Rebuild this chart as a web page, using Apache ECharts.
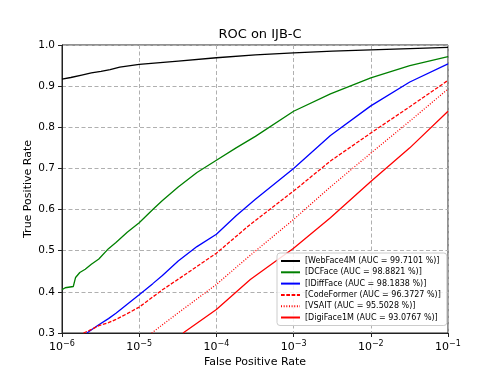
<!DOCTYPE html>
<html>
<head>
<meta charset="utf-8">
<script src="https://cdn.jsdelivr.net/npm/echarts@6/dist/echarts.min.js"></script>
<style>
  html, body { margin: 0; padding: 0; background: #fff; }
  #chart { width: 498px; height: 374px; }
</style>
</head>
<body>
<div id="chart"></div>
<script>
// ROC curves (x = FPR, y = TPR)
var webfaceFpr = [1e-6, 1.3e-6, 1.8e-6, 2.4e-6, 3.2e-6, 4.2e-6, 5.6e-6, 1e-5, 3.2e-5, 1e-4, 3.2e-4, 1e-3, 3.2e-3, 1e-2, 3.2e-2, 1e-1];
var webfaceTpr = [0.917, 0.921, 0.927, 0.932, 0.936, 0.94, 0.946, 0.953, 0.961, 0.969, 0.976, 0.981, 0.985, 0.988, 0.991, 0.994];

var dcfaceFpr = [1e-6, 1.1e-6, 1.4e-6, 1.5e-6, 1.7e-6, 2e-6, 2.4e-6, 3e-6, 4e-6, 5e-6, 7e-6, 1e-5, 1.5e-5, 2e-5, 3.2e-5, 5.6e-5, 1e-4, 1.8e-4, 3.2e-4, 1e-3, 3e-3, 1e-2, 3.2e-2, 1e-1];
var dcfaceTpr = [0.405, 0.41, 0.413, 0.435, 0.447, 0.455, 0.467, 0.48, 0.505, 0.52, 0.545, 0.568, 0.6, 0.622, 0.655, 0.69, 0.72, 0.75, 0.778, 0.839, 0.881, 0.92, 0.95, 0.972];

var idiffFpr = [2.1e-6, 2.6e-6, 3e-6, 4e-6, 5e-6, 7e-6, 1e-5, 1.5e-5, 2e-5, 3.2e-5, 5.6e-5, 1e-4, 1.8e-4, 3.2e-4, 1e-3, 3e-3, 1e-2, 3.2e-2, 1e-1];
var idiffTpr = [0.3, 0.312, 0.32, 0.335, 0.348, 0.37, 0.393, 0.42, 0.44, 0.475, 0.51, 0.54, 0.585, 0.625, 0.7, 0.78, 0.852, 0.91, 0.954];

var codeFpr = [1.9e-6, 2.5e-6, 3e-6, 4e-6, 5e-6, 7e-6, 1e-5, 2e-5, 3.4e-5, 1e-4, 2.75e-4, 1e-3, 3e-3, 1e-2, 3.2e-2, 1e-1];
var codeTpr = [0.3, 0.31, 0.318, 0.325, 0.333, 0.347, 0.363, 0.405, 0.434, 0.494, 0.564, 0.645, 0.718, 0.786, 0.85, 0.914];

var vsaitFpr = [1.45e-5, 3e-5, 1e-4, 2.75e-4, 1e-3, 3e-3, 1e-2, 3.2e-2, 1e-1];
var vsaitTpr = [0.3, 0.345, 0.418, 0.489, 0.576, 0.655, 0.737, 0.815, 0.893];

var digiFpr = [3.7e-5, 1e-4, 2.75e-4, 1e-3, 3e-3, 1e-2, 3.2e-2, 1e-1];
var digiTpr = [0.3, 0.357, 0.43, 0.506, 0.58, 0.668, 0.75, 0.839];

var names = [
  "[WebFace4M (AUC = 99.7101 %)]",
  "[DCFace (AUC = 98.8821 %)]",
  "[IDiffFace (AUC = 98.1838 %)]",
  "[CodeFormer (AUC = 96.3727 %)]",
  "[VSAIT (AUC = 95.5028 %)]",
  "[DigiFace1M (AUC = 93.0767 %)]"
];

function zip(xs, ys) {
  return xs.map(function (x, i) { return [x, ys[i]]; });
}

function curve(name, xs, ys, color, type) {
  return {
    name: name,
    type: "line",
    data: zip(xs, ys),
    showSymbol: false,
    symbol: "none",
    clip: true,
    lineStyle: { color: color, width: 1.3, type: type },
    itemStyle: { color: color },
    emphasis: { disabled: true }
  };
}

var font = "DejaVu Sans";
var chart = echarts.init(document.getElementById("chart"));
chart.setOption({
  animation: false,
  backgroundColor: "#fff",
  title: {
    text: "ROC on IJB-C",
    left: 255,
    textAlign: "center",
    top: 23,
    textStyle: { fontFamily: font, fontSize: 13, fontWeight: "normal", color: "#000" }
  },
  grid: {
    left: 62, right: 50, top: 45, bottom: 41,
    show: true, borderColor: "#222", borderWidth: 1
  },
  legend: {
    orient: "vertical",
    left: 277,
    top: 253,
    itemWidth: 19,
    itemHeight: 9,
    itemGap: 3.3,
    padding: [4, 6, 4, 3],
    backgroundColor: "rgba(255,255,255,0.85)",
    borderColor: "#ccc",
    borderWidth: 1,
    borderRadius: 3,
    itemStyle: { opacity: 0 },
    textStyle: { fontFamily: font, fontSize: 8, color: "#000" },
    data: names
  },
  xAxis: {
    type: "log",
    logBase: 10,
    min: 1e-6,
    max: 1e-1,
    name: "False Positive Rate",
    nameLocation: "middle",
    nameGap: 24,
    nameMoveOverlap: false,
    nameTextStyle: { fontFamily: font, fontSize: 11, color: "#000" },
    axisLine: { lineStyle: { color: "#222" } },
    axisTick: { show: true, length: 4, lineStyle: { color: "#222" } },
    axisLabel: {
      color: "#000",
      fontFamily: font,
      fontSize: 11,
      margin: 7,
      formatter: function (v) {
        var n = Math.round(Math.log10(v));
        return "10{sup|\u2212" + Math.abs(n) + "}";
      },
      rich: {
        sup: { fontSize: 8, fontFamily: font, color: "#000", verticalAlign: "top", padding: [0, 0, 7, 0] }
      }
    },
    splitLine: { show: true, lineStyle: { color: "#b0b0b0", type: [4, 2.5], width: 1 } }
  },
  yAxis: {
    type: "value",
    min: 0.3,
    max: 1.0,
    interval: 0.1,
    name: "True Positive Rate",
    nameLocation: "middle",
    nameGap: 28,
    nameMoveOverlap: false,
    nameTextStyle: { fontFamily: font, fontSize: 11, color: "#000" },
    axisLine: { show: true, lineStyle: { color: "#222" } },
    axisTick: { show: true, length: 4, lineStyle: { color: "#222" } },
    axisLabel: {
      color: "#000",
      fontFamily: font,
      fontSize: 10.5,
      margin: 7,
      formatter: function (v) { return v.toFixed(1); }
    },
    splitLine: { show: true, lineStyle: { color: "#b0b0b0", type: [4, 2.5], width: 1 } }
  },
  series: [
    curve(names[0], webfaceFpr, webfaceTpr, "#000000", "solid"),
    curve(names[1], dcfaceFpr, dcfaceTpr, "#008000", "solid"),
    curve(names[2], idiffFpr, idiffTpr, "#0000ff", "solid"),
    curve(names[3], codeFpr, codeTpr, "#ff0000", [3.7, 1.6]),
    curve(names[4], vsaitFpr, vsaitTpr, "#ff0000", [1, 1.65]),
    curve(names[5], digiFpr, digiTpr, "#ff0000", "solid")
  ]
});
</script>
</body>
</html>
